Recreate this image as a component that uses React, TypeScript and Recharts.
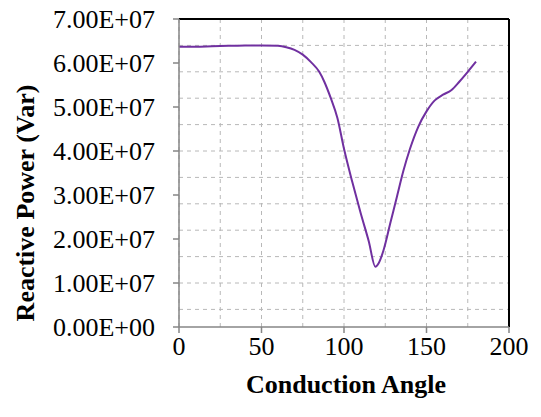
import React from 'react';
import { LineChart, Line, XAxis, YAxis, CartesianGrid, ReferenceLine } from 'recharts';

const angles = [0, 10, 20, 30, 40, 50, 60, 65, 70, 75, 80, 85, 88, 92, 96, 100, 105, 110, 115, 119, 121, 124, 128, 132, 136, 140, 145, 150, 155, 160, 165, 170, 175, 180];
const reactivePower = [
  6.37e7, 6.37e7, 6.38e7, 6.39e7, 6.4e7, 6.4e7, 6.39e7, 6.36e7, 6.3e7, 6.19e7, 6.02e7, 5.8e7,
  5.58e7, 5.2e7, 4.75e7, 4.05e7, 3.3e7, 2.6e7, 1.95e7, 1.37e7, 1.45e7, 1.75e7, 2.35e7, 2.95e7,
  3.55e7, 4.05e7, 4.55e7, 4.9e7, 5.15e7, 5.28e7, 5.38e7, 5.58e7, 5.8e7, 6.03e7,
];
const xTicks = [0, 50, 100, 150, 200];
const yTicks = [0, 1e7, 2e7, 3e7, 4e7, 5e7, 6e7, 7e7];

const data = angles.map((a, i) => ({ angle: a, q: reactivePower[i] }));

const fmtSci = (v: number) => {
  const [m, e] = v.toExponential(2).split('e');
  const sign = e[0] === '-' ? '-' : '+';
  const digits = e.replace(/[+-]/, '').padStart(2, '0');
  return `${m}E${sign}${digits}`;
};

const gridX: number[] = [];
for (let i = 0; i <= 24; i++) gridX.push((200 * i) / 24);
const gridY: number[] = [];
for (let i = 0; i <= 35; i++) gridY.push(i * 2e6);

const FONT = "'Liberation Serif', 'DejaVu Serif', serif";

export default function App() {
  return (
    <div style={{ position: 'absolute', left: 0, top: 0, background: '#fff', fontFamily: FONT }}>
      <LineChart width={541} height={417} data={data} margin={{ top: 19, right: 32, left: 0, bottom: 0 }}>
        <CartesianGrid
          stroke="#b8b8b8"
          strokeDasharray="4 4"
          strokeWidth={1}
          horizontalValues={gridY}
          verticalValues={gridX}
        />
        <XAxis
          dataKey="angle"
          type="number"
          domain={[0, 200]}
          ticks={xTicks}
          height={90}
          stroke="#868686"
          strokeWidth={1.5}
          tickSize={6}
          tickMargin={4}
          fontFamily={FONT}
          tick={{ fill: '#000', fontSize: 26, fontFamily: FONT }}
          label={() => (
            <text x={346} y={384} textAnchor="middle" dominantBaseline="central" fontFamily={FONT} fontWeight="bold" fontSize={26} fill="#000">
              Conduction Angle
            </text>
          )}
        />
        <YAxis
          type="number"
          domain={[0, 7e7]}
          ticks={yTicks}
          width={179}
          stroke="#868686"
          strokeWidth={1.5}
          tickSize={6}
          tickMargin={18}
          tickFormatter={fmtSci}
          fontFamily={FONT}
          tick={{ fill: '#000', fontSize: 26, fontFamily: FONT }}
          label={() => (
            <text x={25} y={203} transform="rotate(-90 25 203)" textAnchor="middle" dominantBaseline="central" fontFamily={FONT} fontWeight="bold" fontSize={26} fill="#000">
              Reactive Power (Var)
            </text>
          )}
        />
        <ReferenceLine y={7e7} stroke="#000" strokeWidth={2} />
        <ReferenceLine x={200} stroke="#000" strokeWidth={2} />
        <Line type="monotone" dataKey="q" stroke="#7030A0" strokeWidth={2} dot={false} isAnimationActive={false} />
      </LineChart>
    </div>
  );
}
